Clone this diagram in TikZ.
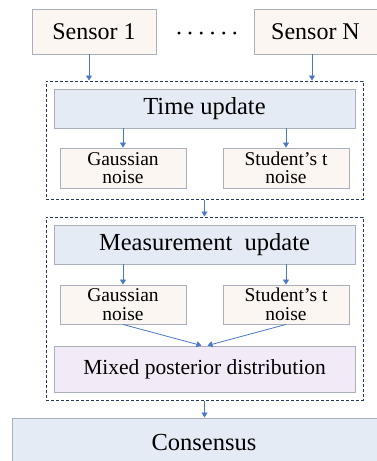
\documentclass[tikz,border=0pt]{standalone}
\usepackage{fontspec}
\setmainfont{Liberation Serif}
\usetikzlibrary{arrows.meta,calc}
\definecolor{peach}{HTML}{FBF6F1}
\definecolor{bluefill}{HTML}{E5EBF5}
\definecolor{lavender}{HTML}{F2EAF7}
\definecolor{bordergray}{HTML}{A9AFBB}
\definecolor{arrowblue}{HTML}{4A78C8}
\definecolor{navy}{HTML}{23375F}
\begin{document}
\begin{tikzpicture}[x=1pt,y=-1pt,
  box/.style={draw=bordergray,line width=0.9pt,inner sep=0pt,align=center,anchor=center},
  sensorbox/.style={box,fill=peach,minimum height=45pt,font=\fontsize{24}{24}\selectfont},
  bigbox/.style={box,fill=bluefill,minimum width=301pt,font=\fontsize{24.5}{24.5}\selectfont},
  noisebox/.style={box,fill=peach,minimum width=126pt,font=\fontsize{19.5}{18.5}\selectfont},
  dashbox/.style={draw=navy,line width=1pt,dash pattern=on 3pt off 2pt,minimum width=317pt,inner sep=0pt},
  arr/.style={draw=arrowblue,line width=0.8pt,-{Triangle[width=6pt,length=5pt]}}]
\useasboundingbox (0,0) rectangle (377,461);
\node[sensorbox,minimum width=124pt] (s1) at (94,31.5) {Sensor 1};
\node[sensorbox,minimum width=123pt] (sN) at (315.5,31.5) {Sensor N};
\node[font=\fontsize{24}{24}\selectfont,inner sep=0pt,anchor=base] (dots) at (207,41) {·\hspace{3.2pt}·\hspace{3.2pt}·\hspace{3.2pt}·\hspace{3.2pt}·\hspace{3.2pt}·};
\node[dashbox,minimum height=118pt] (b1) at (204.5,140) {};
\node[bigbox,minimum height=39pt] (tu) at (204.5,108.5) {Time update};
\node[noisebox,minimum height=40pt] (g1) at (123,168) {Gaussian\\noise};
\node[noisebox,minimum height=40pt] (st1) at (286,168) {Student’s t\\noise};
\node[dashbox,minimum height=183pt] (b2) at (204.5,308.5) {};
\node[bigbox,minimum height=39pt] (mu) at (204.5,244.5) {Measurement\ \ update};
\node[noisebox,minimum height=39pt] (g2) at (123,304.5) {Gaussian\\noise};
\node[noisebox,minimum height=39pt] (st2) at (286,304.5) {Student’s t\\noise};
\node[box,fill=lavender,minimum width=301pt,minimum height=46pt,font=\fontsize{21.5}{21.5}\selectfont] (mp) at (204.5,369) {Mixed posterior distribution};
\node[box,fill=bluefill,minimum width=384pt,minimum height=50pt,font=\fontsize{24.5}{24.5}\selectfont] (cons) at (204,443) {Consensus};
\draw[arr] ([xshift=-5pt]s1.south) -- ([xshift=-5pt]s1.south |- b1.north);
\draw[arr] ([xshift=-3.5pt]sN.south) -- ([xshift=-3.5pt]sN.south |- b1.north);
\draw[arr] (tu.south -| g1.north) -- (g1.north);
\draw[arr] (tu.south -| st1.north) -- (st1.north);
\draw[arr] (b1.south) -- (b2.north);
\draw[arr] (mu.south -| g2.north) -- (g2.north);
\draw[arr] (mu.south -| st2.north) -- (st2.north);
\draw[arr] (g2.south) -- ([xshift=-3pt]mp.north);
\draw[arr] (st2.south) -- ([xshift=3pt]mp.north);
\draw[arr] (b2.south) -- (cons.north -| b2.south);
\end{tikzpicture}
\end{document}
